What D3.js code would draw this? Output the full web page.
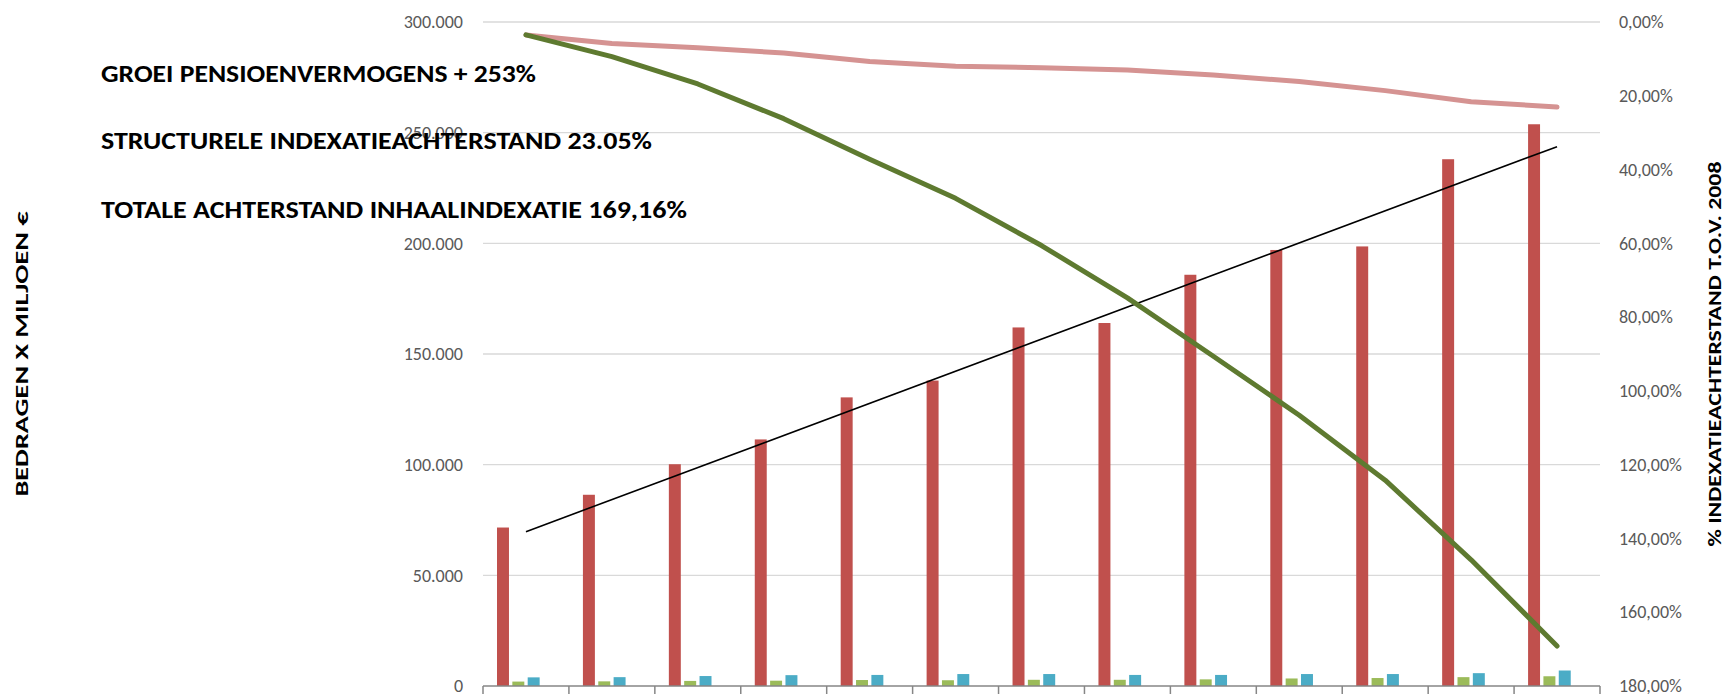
<!DOCTYPE html>
<html>
<head>
<meta charset="utf-8">
<script src="https://cdn.jsdelivr.net/npm/d3@7"></script>
<style>
  html, body { margin: 0; padding: 0; background: #fff; }
  svg { display: block; font-family: Carlito, Calibri, Lato, sans-serif; }
</style>
</head>
<body>
<svg id="chart" width="1726" height="694"></svg>
<script>
// categories (no labels shown on the axis in the original)
const jaren = ["2008", "2009", "2010", "2011", "2012", "2013", "2014",
  "2015", "2016", "2017", "2018", "2019", "2020"];

// bars, x miljoen euro
const pensioenvermogen = [71600, 86400, 100200, 111400, 130400, 138000, 162000,
  164000, 185800, 197000, 198600, 238000, 253800];
const reeksGroen = [2000, 2100, 2300, 2400, 2700, 2600, 2800,
  2800, 3000, 3400, 3600, 4000, 4400];
const reeksBlauw = [3900, 4000, 4500, 4900, 5000, 5400, 5400,
  5000, 5000, 5400, 5400, 5800, 7000];

// lines on the right (inverted) axis
const structureleAchterstand = [0.035, 0.058, 0.070, 0.084, 0.107, 0.120, 0.124,
  0.130, 0.144, 0.161, 0.186, 0.216, 0.2305];
const inhaalIndexatie = [0.035, 0.094, 0.168, 0.262, 0.372, 0.478, 0.606,
  0.748, 0.906, 1.066, 1.242, 1.458, 1.6916];

const linkerTicks = [0, 50000, 100000, 150000, 200000, 250000, 300000];
const rechterTicks = [0, 0.2, 0.4, 0.6, 0.8, 1.0, 1.2, 1.4, 1.6, 1.8];

const teksten = [
  "GROEI PENSIOENVERMOGENS + 253%",
  "STRUCTURELE INDEXATIEACHTERSTAND 23.05%",
  "TOTALE ACHTERSTAND INHAALINDEXATIE 169,16%"
];

const plot = { left: 483, right: 1600, top: 22, bottom: 686 };

const nl = d3.formatLocale({ decimal: ",", thousands: ".", grouping: [3], currency: ["€", ""] });
const fmtBedrag = nl.format(",.0f");
const fmtPct = nl.format(".2%");

const svg = d3.select("#chart");

const x0 = d3.scaleBand().domain(jaren).range([plot.left, plot.right]).padding(0);
// four column slots per category; the fourth one is empty in the original
const x1 = d3.scaleBand().domain([0, 1, 2, 3]).range([14, 72]).paddingInner(0.22);
const yL = d3.scaleLinear().domain([0, 300000]).range([plot.bottom, plot.top]);
const yR = d3.scaleLinear().domain([0, 1.8]).range([plot.top, plot.bottom]);

// gridlines
svg.append("g")
  .selectAll("line")
  .data(linkerTicks.slice(1))
  .join("line")
  .attr("x1", plot.left)
  .attr("x2", plot.right)
  .attr("y1", d => yL(d))
  .attr("y2", d => yL(d))
  .attr("stroke", "#d9d9d9")
  .attr("stroke-width", 1.3);

// left axis labels
const axL = svg.append("g")
  .attr("transform", `translate(${plot.left},0)`)
  .call(d3.axisLeft(yL).tickValues(linkerTicks).tickSize(0).tickPadding(20).tickFormat(fmtBedrag));
axL.select(".domain").remove();
axL.selectAll("text").attr("fill", "#595959").style("font-size", "18px")
  .style("font-family", "Carlito, Calibri, Lato, sans-serif");

// right axis labels
const axR = svg.append("g")
  .attr("transform", `translate(${plot.right},0)`)
  .call(d3.axisRight(yR).tickValues(rechterTicks).tickSize(0).tickPadding(19).tickFormat(fmtPct));
axR.select(".domain").remove();
axR.selectAll("text").attr("fill", "#595959").style("font-size", "18px")
  .style("font-family", "Carlito, Calibri, Lato, sans-serif");

// bars
const reeksen = [
  { waarden: pensioenvermogen, kleur: "#c0504d" },
  { waarden: reeksGroen, kleur: "#9bbb59" },
  { waarden: reeksBlauw, kleur: "#4bacc6" }
];
reeksen.forEach((r, i) => {
  svg.append("g")
    .selectAll("rect")
    .data(r.waarden)
    .join("rect")
    .attr("x", (d, j) => x0(jaren[j]) + x1(i))
    .attr("width", x1.bandwidth())
    .attr("y", d => yL(d))
    .attr("height", d => yL(0) - yL(d))
    .attr("fill", r.kleur);
});

// x axis line with ticks at category boundaries
const grenzen = jaren.map(d => x0(d)).concat([x0.range()[1]]);
svg.append("line")
  .attr("x1", plot.left).attr("x2", plot.right)
  .attr("y1", plot.bottom).attr("y2", plot.bottom)
  .attr("stroke", "#868686").attr("stroke-width", 1.5);
svg.append("g")
  .selectAll("line")
  .data(grenzen)
  .join("line")
  .attr("x1", d => d).attr("x2", d => d)
  .attr("y1", plot.bottom).attr("y2", plot.bottom + 9)
  .attr("stroke", "#868686").attr("stroke-width", 1.5);

const cx = d => x0(d) + x0.bandwidth() / 2;

// linear trendline through the pensioenvermogen bars
const xs = jaren.map((d, i) => i);
const mx = d3.mean(xs), my = d3.mean(pensioenvermogen);
const helling = d3.sum(xs, (x, i) => (x - mx) * (pensioenvermogen[i] - my)) /
  d3.sum(xs, x => (x - mx) * (x - mx));
const trend = i => my + helling * (i - mx);
svg.append("line")
  .attr("x1", cx(jaren[0]))
  .attr("y1", yL(trend(0)))
  .attr("x2", cx(jaren[jaren.length - 1]))
  .attr("y2", yL(trend(jaren.length - 1)))
  .attr("stroke", "#000")
  .attr("stroke-width", 1.6);

// lines on the right axis
const lijn = d3.line()
  .x((d, i) => cx(jaren[i]))
  .y(d => yR(d));

[
  { waarden: structureleAchterstand, kleur: "#d59392" },
  { waarden: inhaalIndexatie, kleur: "#5e7a30" }
].forEach(l => {
  svg.append("path")
    .datum(l.waarden)
    .attr("d", lijn)
    .attr("fill", "none")
    .attr("stroke", l.kleur)
    .attr("stroke-width", 5)
    .attr("stroke-linecap", "round")
    .attr("stroke-linejoin", "round");
});

// text block
const tekstBreedte = [435, 551, 586];
const tekstY = [82, 149, 218];
svg.append("g")
  .selectAll("text")
  .data(teksten)
  .join("text")
  .attr("x", 101)
  .attr("y", (d, i) => tekstY[i])
  .attr("textLength", (d, i) => tekstBreedte[i])
  .attr("lengthAdjust", "spacingAndGlyphs")
  .style("font-size", "25px")
  .style("font-weight", "bold")
  .attr("fill", "#000")
  .text(d => d);

// axis titles
svg.append("text")
  .attr("transform", `translate(22,${(plot.top + plot.bottom) / 2}) rotate(-90)`)
  .attr("text-anchor", "middle")
  .attr("dominant-baseline", "central")
  .attr("textLength", 285)
  .attr("lengthAdjust", "spacingAndGlyphs")
  .style("font-size", "18px")
  .style("font-weight", "bold")
  .text("BEDRAGEN X MILJOEN €");

svg.append("text")
  .attr("transform", `translate(1715,${(plot.top + plot.bottom) / 2}) rotate(-90)`)
  .attr("text-anchor", "middle")
  .attr("dominant-baseline", "central")
  .attr("textLength", 385)
  .attr("lengthAdjust", "spacingAndGlyphs")
  .style("font-size", "18px")
  .style("font-weight", "bold")
  .text("% INDEXATIEACHTERSTAND T.O.V. 2008");
</script>
</body>
</html>
